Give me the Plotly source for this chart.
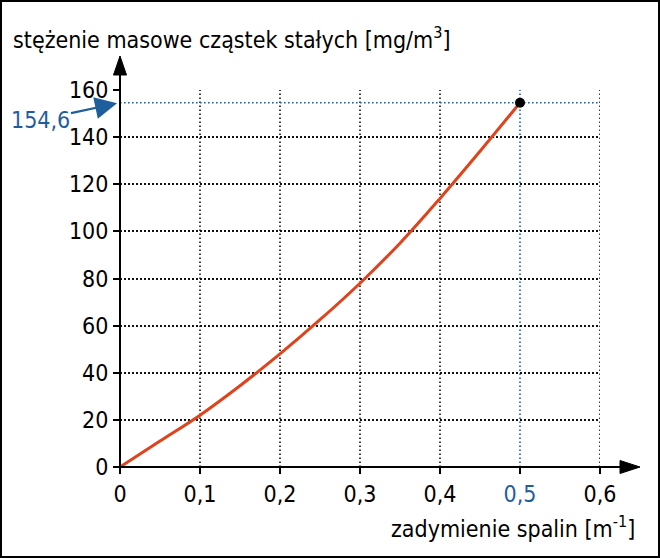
import plotly.graph_objects as go

# ---- data ----
x_vals = [0.0, 0.05, 0.1, 0.15, 0.2, 0.25, 0.3, 0.35, 0.4, 0.45, 0.5]
y_vals = [0.0, 11.0, 22.0, 34.5, 48.0, 62.5, 78.0, 95.0, 114.0, 134.0, 154.6]
point_x = [0.5]
point_y = [154.6]
x_ticks = [0, 0.1, 0.2, 0.3, 0.4, 0.5, 0.6]
x_tick_text = ["0", "0,1", "0,2", "0,3", "0,4", "<span style='color:#1f5e9c'>0,5</span>", "0,6"]
y_ticks = [0, 20, 40, 60, 80, 100, 120, 140, 160]
x_grid_black = [0.1, 0.2, 0.3, 0.4, 0.6]
x_grid_blue = [0.5]
y_grid_blue = [154.6]
y_label = "stężenie masowe cząstek stałych [mg/m<sup>3</sup>]"
x_label = "zadymienie spalin [m<sup>-1</sup>]"
callout_text = "154,6"

FONT = "DejaVu Sans Condensed, Liberation Sans Narrow, sans-serif"
FS = 23
BLUE = "#1f5e9c"
RED = "#e0431c"
GRID = "#111111"
DOT = "1.6px,2.4px"

W, H = 660, 558
L, R, T, B = 120, 60, 90, 91
PW, PH = W - L - R, H - T - B


def px2paper_x(px):
    return (px - L) / PW


def px2paper_y(py):
    return (H - B - py) / PH


fig = go.Figure()

fig.add_trace(go.Scatter(
    x=x_vals, y=y_vals, mode="lines",
    line=dict(color=RED, width=3, shape="spline"),
    showlegend=False, hoverinfo="skip", cliponaxis=False,
))
fig.add_trace(go.Scatter(
    x=point_x, y=point_y, mode="markers",
    marker=dict(color="black", size=10),
    showlegend=False, hoverinfo="skip", cliponaxis=False,
))

shapes = []
for gx in x_grid_black:
    shapes.append(dict(type="line", xref="x", yref="paper", x0=gx, x1=gx, y0=0, y1=1,
                       line=dict(color=GRID, width=1.6, dash=DOT), layer="below"))
for gx in x_grid_blue:
    shapes.append(dict(type="line", xref="x", yref="paper", x0=gx, x1=gx, y0=0, y1=1,
                       line=dict(color=BLUE, width=1.6, dash=DOT), layer="below"))
for gy in y_grid_blue:
    shapes.append(dict(type="line", xref="paper", yref="y", x0=0, x1=1, y0=gy, y1=gy,
                       line=dict(color=BLUE, width=1.6, dash=DOT), layer="below"))

# axis lines with arrows
y_tip = px2paper_y(56)
y_base = px2paper_y(75)
x_tip = px2paper_x(640)
x_base = px2paper_x(620)
hw_x = 6.5 / PW
hw_y = 6.5 / PH
shapes.append(dict(type="line", xref="paper", yref="paper", x0=0, x1=0, y0=0, y1=y_base + 0.005,
                   line=dict(color="black", width=2)))
shapes.append(dict(type="line", xref="paper", yref="paper", x0=px2paper_x(114), x1=x_base + 0.005, y0=0, y1=0,
                   line=dict(color="black", width=2)))
shapes.append(dict(type="path", xref="paper", yref="paper",
                   path=f"M {-hw_x},{y_base} L 0,{y_tip} L {hw_x},{y_base} Z",
                   fillcolor="black", line=dict(color="black", width=1)))
shapes.append(dict(type="path", xref="paper", yref="paper",
                   path=f"M {x_base},{-hw_y} L {x_tip},0 L {x_base},{hw_y} Z",
                   fillcolor="black", line=dict(color="black", width=1)))
# outer frame
shapes.append(dict(type="rect", xref="paper", yref="paper",
                   x0=px2paper_x(1), x1=px2paper_x(659), y0=px2paper_y(557), y1=px2paper_y(1),
                   line=dict(color="black", width=2), fillcolor="rgba(0,0,0,0)"))

annotations = [
    dict(text=y_label, xref="paper", yref="paper", x=px2paper_x(11), y=px2paper_y(38),
         xanchor="left", yanchor="middle", showarrow=False,
         font=dict(family=FONT, size=FS, color="black")),
    dict(text=x_label, xref="paper", yref="paper", x=px2paper_x(637), y=px2paper_y(527),
         xanchor="right", yanchor="middle", showarrow=False,
         font=dict(family=FONT, size=FS, color="black")),
    dict(text=callout_text, xref="x", yref="y", x=0, y=point_y[0],
         ax=-80, ay=17, showarrow=True, arrowhead=2, arrowsize=2, arrowwidth=2.2,
         arrowcolor=BLUE, standoff=3,
         font=dict(family=FONT, size=FS, color=BLUE)),
]

fig.update_layout(
    width=W, height=H,
    margin=dict(l=L, r=R, t=T, b=B, pad=0),
    paper_bgcolor="white", plot_bgcolor="white",
    font=dict(family=FONT, size=FS, color="black"),
    showlegend=False,
    shapes=shapes,
    annotations=annotations,
    xaxis=dict(range=[0, 0.6], tickvals=x_ticks, ticktext=x_tick_text,
               showgrid=False, zeroline=False, showline=False,
               ticks="outside", ticklen=6, tickwidth=1.5, tickcolor="black",
               tickfont=dict(family=FONT, size=FS, color="black"), fixedrange=True),
    yaxis=dict(range=[0, 160], tickvals=y_ticks,
               showgrid=True, gridcolor=GRID, gridwidth=1.6, griddash=DOT,
               zeroline=False, showline=False,
               ticks="outside", ticklen=6, tickwidth=1.5, tickcolor="black",
               tickfont=dict(family=FONT, size=FS, color="black"), fixedrange=True),
)

fig.write_html("out.html", config={"displayModeBar": False},
               post_script="document.body.style.margin='0';document.body.style.padding='0';")
